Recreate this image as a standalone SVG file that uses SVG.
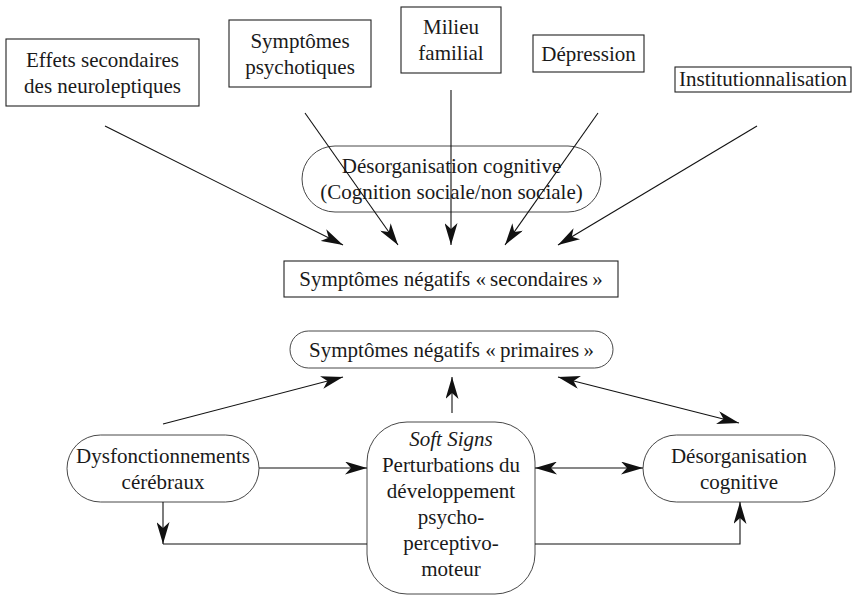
<svg xmlns="http://www.w3.org/2000/svg" width="854" height="596" viewBox="0 0 854 596">
<style>
.box{fill:#fff;stroke:#222;stroke-width:1.1}
.pill{fill:#fff;stroke:#333;stroke-width:0.9}
text{font-family:'Liberation Serif','Times New Roman',serif;font-size:21px;fill:#1a1a1a;text-anchor:middle}
.it{font-style:italic}
.c{fill:none;stroke:#111;stroke-width:1.1}
</style>
<defs>
<marker id="ah" viewBox="0 0 22 13" refX="22" refY="6.5" markerWidth="22" markerHeight="13" markerUnits="userSpaceOnUse" orient="auto-start-reverse">
<path d="M0,0 L22,6.5 L0,13 L6,6.5 z" fill="#111"/>
</marker>
</defs>
<rect width="854" height="596" fill="#fff"/>

<g id="n-effets">
<rect class="box" x="6" y="39" width="193" height="67"/>
<text x="102.5" y="66.5">Effets secondaires</text>
<text x="102.5" y="92.5">des neuroleptiques</text>
</g>
<g id="n-symptomes">
<rect class="box" x="229" y="20" width="142" height="67"/>
<text x="300" y="47.5">Symptômes</text>
<text x="300" y="73.5">psychotiques</text>
</g>
<g id="n-milieu">
<rect class="box" x="401" y="7" width="100" height="66"/>
<text x="451" y="34">Milieu</text>
<text x="451" y="60">familial</text>
</g>
<g id="n-depression">
<rect class="box" x="533" y="35" width="111" height="37"/>
<text x="588.5" y="60.5">Dépression</text>
</g>
<g id="n-institution">
<rect class="box" x="675" y="67" width="176" height="25"/>
<text x="763" y="86">Institutionnalisation</text>
</g>
<g id="n-desorg-top">
<rect class="pill" x="302" y="146" width="299" height="66" rx="33" ry="33" stroke="#555"/>
<text x="451.5" y="173">Désorganisation cognitive</text>
<text x="451.5" y="199">(Cognition sociale/non sociale)</text>
</g>
<g id="n-secondaires">
<rect class="box" x="284" y="261" width="334" height="36"/>
<text x="451" y="286">Symptômes négatifs «&#8201;secondaires&#8201;»</text>
</g>
<g id="n-primaires">
<rect class="pill" x="290" y="331" width="323" height="37" rx="18.5" ry="18.5"/>
<text x="451.5" y="356.5">Symptômes négatifs «&#8201;primaires&#8201;»</text>
</g>
<g id="n-dysf">
<rect class="pill" x="67" y="435" width="192" height="67" rx="33.5" ry="33.5"/>
<text x="163" y="462.5">Dysfonctionnements</text>
<text x="163" y="488.5">cérébraux</text>
</g>
<g id="n-softsigns">
<rect class="pill" x="367" y="422" width="168" height="172" rx="40" ry="40"/>
<text class="it" x="451" y="446">Soft Signs</text>
<text x="451" y="472">Perturbations du</text>
<text x="451" y="498">développement</text>
<text x="451" y="524">psycho-</text>
<text x="451" y="550">perceptivo-</text>
<text x="451" y="576">moteur</text>
</g>
<g id="n-desorg">
<rect class="pill" x="643" y="435" width="192" height="67" rx="33.5" ry="33.5"/>
<text x="739" y="462.5">Désorganisation</text>
<text x="739" y="488.5">cognitive</text>
</g>

<g id="connectors">
<line class="c" x1="105" y1="126" x2="343" y2="245" marker-end="url(#ah)"/>
<line class="c" x1="305" y1="113" x2="398" y2="245" marker-end="url(#ah)"/>
<line class="c" x1="451" y1="90" x2="451" y2="245" marker-end="url(#ah)"/>
<line class="c" x1="598" y1="113" x2="505" y2="245" marker-end="url(#ah)"/>
<line class="c" x1="757" y1="126" x2="558" y2="245" marker-end="url(#ah)"/>
<line class="c" x1="163" y1="424" x2="343" y2="377" marker-end="url(#ah)"/>
<line class="c" x1="452" y1="413" x2="452" y2="377" marker-end="url(#ah)"/>
<line class="c" x1="558" y1="377" x2="739" y2="423" marker-start="url(#ah)" marker-end="url(#ah)"/>
<line class="c" x1="259" y1="468" x2="367" y2="468" marker-end="url(#ah)"/>
<line class="c" x1="535" y1="468" x2="643" y2="468" marker-start="url(#ah)" marker-end="url(#ah)"/>
<line class="c" x1="163" y1="502" x2="163" y2="544" marker-end="url(#ah)"/>
<line class="c" x1="163" y1="544" x2="367" y2="544"/>
<polyline class="c" points="535,544 740,544 740,502" marker-end="url(#ah)"/>
</g>
</svg>
